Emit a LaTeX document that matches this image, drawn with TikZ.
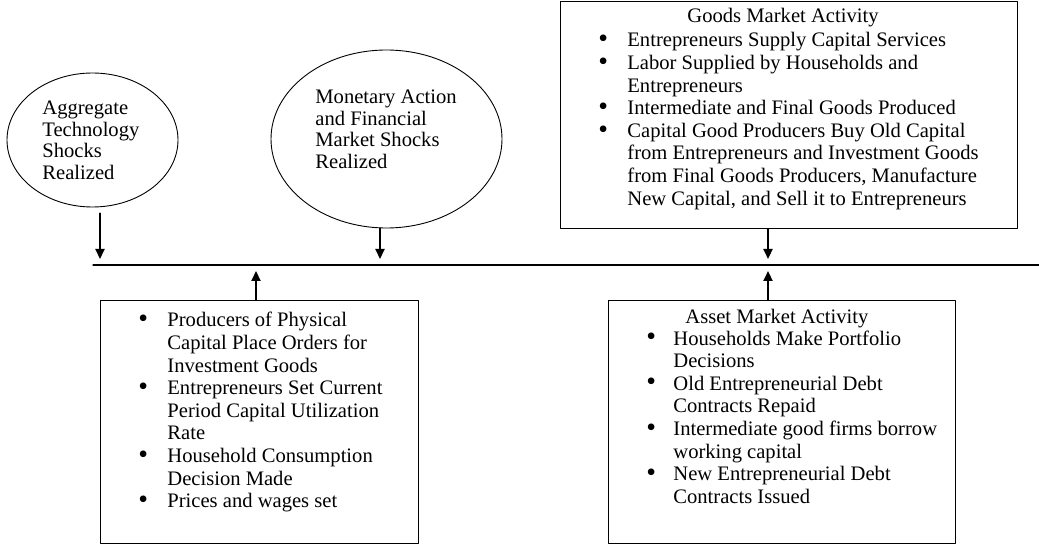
\documentclass[tikz,border=0pt]{standalone}
\usepackage{fontspec}
\setmainfont{Liberation Serif}
\usetikzlibrary{arrows.meta}
\usetikzlibrary{shapes.geometric}
\tikzset{
  box/.style={draw, line width=0.6pt, anchor=north west, inner sep=0pt},
  bubble/.style={draw, ellipse, line width=0.45pt, inner sep=0pt},
  txt/.style={anchor=base west, inner sep=0pt, font=\fontsize{10.3}{11.3}\selectfont},
  bubbletxt/.style={anchor=base west, inner sep=0pt, font=\fontsize{10.3}{10.7}\selectfont},
  arr/.style={line width=1.1pt, -{Triangle[length=5pt, width=4.5pt]}, shorten >=3pt},
}
\newcommand{\bl}{\raisebox{-0.4pt}{\scalebox{1.35}{\textbullet}}}

\begin{document}
\begin{tikzpicture}[line cap=round, line join=round, x=0.5pt, y=-0.5pt]
\useasboundingbox (0,0) rectangle (1039,545);
\node[bubble, minimum width=85.5pt, minimum height=67pt] (tech) at (92.5,140) {};
\node[bubble, minimum width=115.5pt, minimum height=89pt] (money) at (386.5,139) {};
\node[box, minimum width=228.5pt, minimum height=113.5pt] (goods) at (560,1) {};
\node[box, minimum width=159pt, minimum height=121.5pt] (prod) at (100,300) {};
\node[box, minimum width=173.5pt, minimum height=121.5pt] (asset) at (608,300) {};
\node[bubbletxt] (techtxt) at (42,115) {\begin{tabular}[t]{@{}l@{}}Aggregate\\ Technology\\ Shocks\\ Realized\end{tabular}};
\node[bubbletxt] (moneytxt) at (315,104) {\begin{tabular}[t]{@{}l@{}}Monetary Action\\ and Financial\\ Market Shocks\\ Realized\end{tabular}};
\node[txt, anchor=base] (goodstitle) at (783,23) {Goods Market Activity};
\node[txt] (goodstxt) at (598,47) {\begin{tabular}[t]{@{}p{14.5pt}@{}l@{}}
\bl & Entrepreneurs Supply Capital Services\\
\bl & Labor Supplied by Households and\\
    & Entrepreneurs\\
\bl & Intermediate and Final Goods Produced\\
\bl & Capital Good Producers Buy Old Capital\\
    & from Entrepreneurs and Investment Goods\\
    & from Final Goods Producers, Manufacture\\
    & New Capital, and Sell it to Entrepreneurs
\end{tabular}};
\node[txt] (prodtxt) at (138,327) {\begin{tabular}[t]{@{}p{14.5pt}@{}l@{}}
\bl & Producers of Physical\\
    & Capital Place Orders for\\
    & Investment Goods\\
\bl & Entrepreneurs Set Current\\
    & Period Capital Utilization\\
    & Rate\\
\bl & Household Consumption\\
    & Decision Made\\
\bl & Prices and wages set
\end{tabular}};
\node[txt] (assettitle) at (685,323) {Asset Market Activity};
\node[txt] (assettxt) at (646,345) {\begin{tabular}[t]{@{}p{13.5pt}@{}l@{}}
\bl & Households Make Portfolio\\
    & Decisions\\
\bl & Old Entrepreneurial Debt\\
    & Contracts Repaid\\
\bl & Intermediate good firms borrow\\
    & working capital\\
\bl & New Entrepreneurial Debt\\
    & Contracts Issued
\end{tabular}};
\coordinate (tl) at (93,265);
\coordinate (tr) at (1039,265);
\coordinate (ta) at (100,265);
\coordinate (tb) at (380,265);
\coordinate (tc) at (768,265);
\coordinate (td) at (256,265);
\draw[line width=0.6pt] (tl) -- (tr);
\draw[arr] ([yshift=-3pt]tech.south -| ta) -- (ta);
\draw[arr] (money.south -| tb) -- (tb);
\draw[arr] (goods.south -| tc) -- (tc);
\draw[arr] (prod.north -| td) -- (td);
\draw[arr] (asset.north -| tc) -- (tc);
\end{tikzpicture}
\end{document}
